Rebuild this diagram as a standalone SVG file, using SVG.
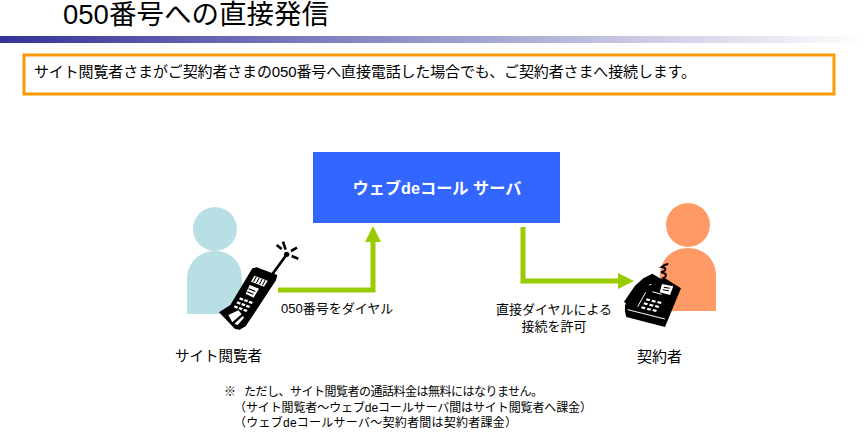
<svg xmlns="http://www.w3.org/2000/svg" width="866" height="433" viewBox="0 0 866 433">
<style>
text{font-family:"Liberation Sans","Noto Sans CJK JP",sans-serif;fill:#000}
.s{font-size:13px}
.n{font-size:12px}
.m{font-size:14.5px}
.a{fill:none;stroke:#99cc00;stroke-width:5}
.h{fill:#99cc00}
.k{fill:#000}
.w{fill:#fff}
</style>
<defs>
<linearGradient id="g"><stop offset="0" stop-color="#333399"/><stop offset="1" stop-color="#333399" stop-opacity="0"/></linearGradient>
</defs>
<rect width="866" height="433" fill="#fff"/>
<text id="title" x="63" y="24" font-size="27.5px">050番号への直接発信</text>
<rect id="rule" x="0" y="36" width="866" height="7" fill="url(#g)"/>
<g id="notice">
<rect x="24" y="55" width="810" height="39" fill="#fff" stroke="#ff9900" stroke-width="3"/>
<text x="34" y="77" font-size="15px" textLength="662">サイト閲覧者さまがご契約者さまの050番号へ直接電話した場合でも、ご契約者さまへ接続します。</text>
</g>
<g id="server">
<rect x="313" y="152" width="247" height="71" fill="#3366ff"/>
<text x="437" y="194" text-anchor="middle" font-size="16.2px" font-weight="bold" style="fill:#fff">ウェブdeコール サーバ</text>
</g>
<g id="connectors">
<path class="a" d="M278 290H373V240"/>
<path class="h" d="M373 226L381 242H365Z"/>
<path class="a" d="M523 227V281H620"/>
<path class="h" d="M634 281L618 273V289Z"/>
<text x="281" y="313" class="s">050番号をダイヤル</text>
<text x="554" y="314" class="s" text-anchor="middle">直接ダイヤルによる</text>
<text x="554" y="331" class="s" text-anchor="middle">接続を許可</text>
</g>
<g id="visitor">
<circle cx="215" cy="229" r="22" fill="#b7dfe4"/>
<path d="M187 314V279C187 262 200 251 215 251S242 262 242 279V314Z" fill="#b7dfe4"/>
<g id="mobile" transform="translate(215 235) scale(.3333)">
<path class="k" d="M12 232L46 210L112 100L125 97L187 120L183 136L92 274L74 284L60 282Z"/>
<path d="M172 118L214 60" stroke="#000" stroke-width="8" fill="none"/>
<circle class="k" cx="215" cy="58" r="8"/>
<path d="M185 30L200 42M204 20L212 44M246 38L228 48M250 71L230 63" stroke="#000" stroke-width="8" fill="none"/>
<path class="w" d="M118 122L158 137L147 155L108 140Z"/>
<path class="k" d="M122 125l3 1-8 15-3-1zM131 128l3 1-8 15-3-1zM140 132l3 1-8 15-3-1zM149 135l3 1-8 15-3-1z"/>
<path class="w" d="M104 150L132 161L116 188L92 176Z"/>
<path class="k" d="M102 160l20 8-2 3-20-8zM98 169l18 7-2 3-18-7z"/>
<path class="w" d="M76 187l10 4-4 6-10-4zM90 192l10 4-4 6-10-4zM104 197l10 4-4 6-10-4zM68 199l10 4-4 6-10-4zM82 204l10 4-4 6-10-4zM96 209l10 4-4 6-10-4zM60 211l10 4-4 6-10-4zM74 216l10 4-4 6-10-4zM88 221l10 4-4 6-10-4z"/>
<path class="w" d="M40 240L70 226L80 237L52 262ZM58 266L84 243L87 248L68 270Z"/>
</g>
<text x="175" y="361" class="m">サイト閲覧者</text>
</g>
<g id="subscriber">
<circle cx="688" cy="225" r="22" fill="#ff9966"/>
<path d="M660 311V275C660 259 673 248 688 248S716 259 716 275V311Z" fill="#ff9966"/>
<g id="desk-phone" transform="translate(615 255) scale(.3333)">
<path class="k" d="M30 150L85 100L150 70L198 100L150 216L34 186L30 170Z"/>
<path class="k" d="M27 140L60 92L85 70L112 56L145 76L125 90L105 87L65 138L45 158Z"/>
<path d="M140 72C160 64 154 54 138 52C156 46 154 38 140 36C148 30 154 27 160 27" fill="none" stroke="#000" stroke-width="6"/>
<path class="w" d="M141 87L175 94L165 120L134 112Z"/>
<path class="k" d="M147 95l18 3-1 3-18-3zM144 103l18 3-1 3-18-3z"/>
<path class="w" d="M95 130l11 3-3 6-11-3zM112 134l11 3-3 6-11-3zM129 138l11 3-3 6-11-3zM88 142l11 3-3 6-11-3zM105 146l11 3-3 6-11-3zM122 150l11 3-3 6-11-3zM81 154l11 3-3 6-11-3zM98 158l11 3-3 6-11-3zM115 162l11 3-3 6-11-3z"/>
<path d="M38 164L150 192M68 155L92 112M112 110L140 118" stroke="#fff" stroke-width="3" fill="none"/>
</g>
<text x="637" y="362" font-size="15px">契約者</text>
</g>
<g id="note">
<text x="224" y="396" class="n">※</text>
<text x="244" y="396" class="n" textLength="299">ただし、サイト閲覧者の通話料金は無料にはなりません。</text>
<text x="234" y="412" class="n" textLength="358">（サイト閲覧者～ウェブdeコールサーバ間はサイト閲覧者へ課金）</text>
<text x="234" y="427" class="n" textLength="283">（ウェブdeコールサーバ～契約者間は契約者課金）</text>
</g>
</svg>
